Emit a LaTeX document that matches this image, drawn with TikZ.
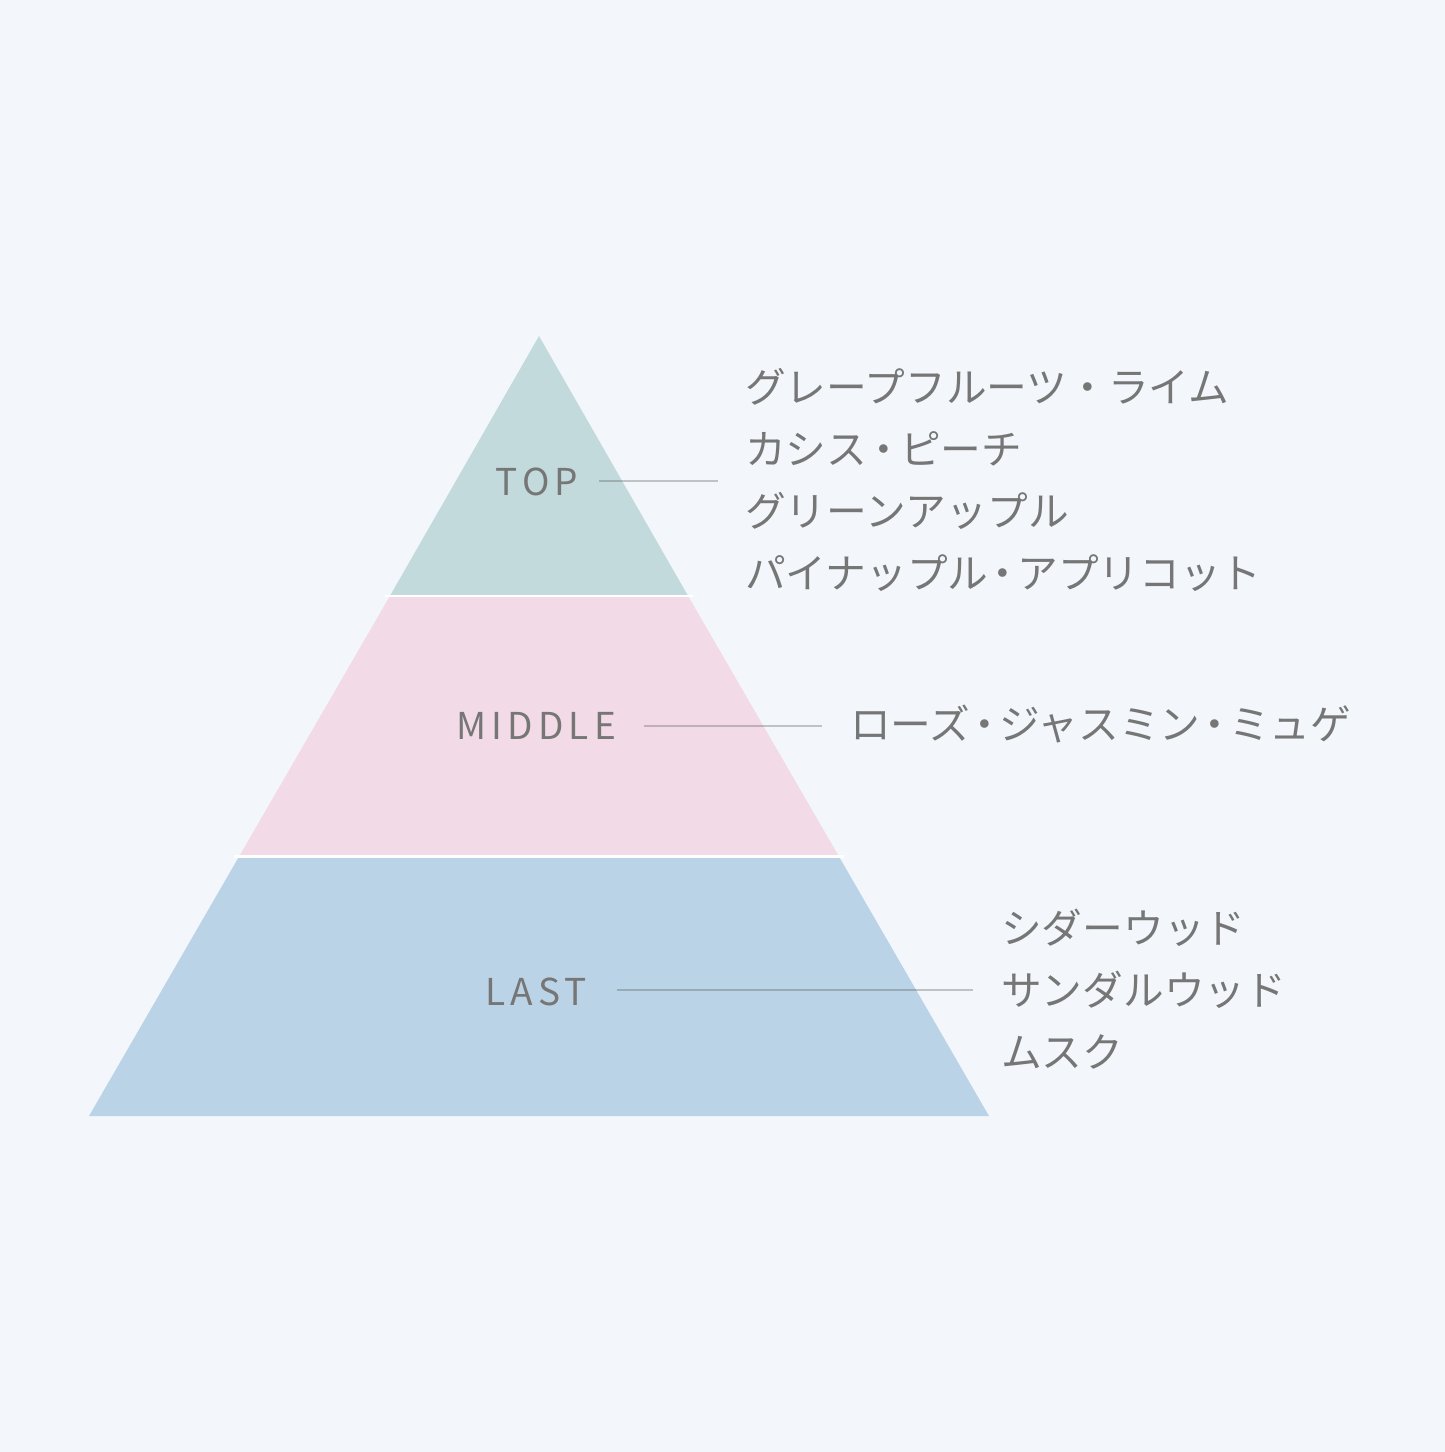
\documentclass[tikz,border=0pt]{standalone}
\usepackage{fontspec}
\newfontfamily\jp{Noto Sans CJK JP}
\newfontfamily\lbl[LetterSpace=14]{Noto Sans CJK JP}
\newcommand\tdot[1]{\kern-#1pt・\kern-#1pt}
\definecolor{bg}{HTML}{F3F7FB}
\definecolor{topc}{HTML}{C2DADC}
\definecolor{midc}{HTML}{F2DAE6}
\definecolor{lastc}{HTML}{BBD3E6}
\definecolor{txt}{HTML}{767676}
\definecolor{sep}{HTML}{FFFFFF}
\tikzset{
  lvl/.style={inner sep=0pt, text=txt, font=\lbl\fontsize{37}{37}\selectfont, anchor=center},
  note/.style={inner sep=0pt, text=txt, font=\jp\fontsize{40.7}{40.7}\selectfont, anchor=west},
  leader/.style={draw=black!70, opacity=0.3, line width=1.3pt},
  gap/.style={draw=sep, line width=2.6pt}
}
\begin{document}
\begin{tikzpicture}[x=1pt,y=-1pt]
\fill[bg] (0,0) rectangle (1445,1452);
\useasboundingbox (0,0) rectangle (1445,1452);
% bands
\fill[topc] (539,336) -- (390,595.8) -- (688,595.8) -- cycle;
\fill[midc] (390,595.8) -- (688,595.8) -- (839,856.6) -- (239,856.6) -- cycle;
\fill[lastc] (239,856.6) -- (839,856.6) -- (989,1116) -- (89,1116) -- cycle;
\draw[gap] (385,595.8) -- (693,595.8);
\draw[gap] (234,856.6) -- (844,856.6);
% level labels
\node[lvl] (top) at (537,482) {TOP};
\node[lvl] (mid) at (536,726) {MIDDLE};
\node[lvl] (last) at (536,992) {LAST};
% leaders
\coordinate (t1) at (599,481);  \coordinate (t2) at (718,481);
\coordinate (m1) at (644,726);  \coordinate (m2) at (822,726);
\coordinate (l1) at (617,990);  \coordinate (l2) at (973,990);
\draw[leader] (t1) -- (t2);
\draw[leader] (m1) -- (m2);
\draw[leader] (l1) -- (l2);
% notes
\node[note] (n1) at (745,387) {グレープフルーツ・ライム};
\node[note] (n2) at (745,449) {カシス\tdot{4}ピーチ};
\node[note] (n3) at (745,511) {グリーンアップル};
\node[note] (n4) at (745,573) {パイナップル\tdot{6}アプリコット};
\node[note] (n5) at (850,724) {ローズ\tdot{6}ジャスミン\tdot{6}ミュゲ};
\node[note] (n6) at (1001,928) {シダーウッド};
\node[note] (n7) at (1001,990) {サンダルウッド};
\node[note] (n8) at (1001,1052) {ムスク};
\end{tikzpicture}
\end{document}
